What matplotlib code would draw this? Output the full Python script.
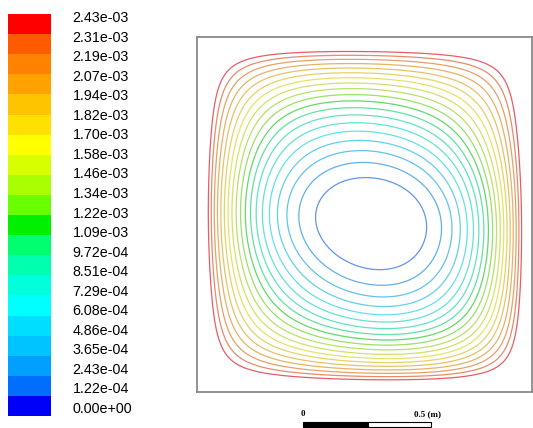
import numpy as np
import matplotlib
matplotlib.use("Agg")
import matplotlib.pyplot as plt
from matplotlib.patches import Rectangle
from matplotlib.colors import to_rgb

# ---------------- data ----------------
vmax = 2.43e-3
tick_values = [0.0, 1.215e-4, 2.43e-4, 3.645e-4, 4.86e-4, 6.075e-4, 7.29e-4,
               8.505e-4, 9.72e-4, 1.0935e-3, 1.215e-3, 1.3365e-3, 1.458e-3,
               1.5795e-3, 1.701e-3, 1.8225e-3, 1.944e-3, 2.0655e-3, 2.187e-3,
               2.3085e-3, 2.43e-3]
tick_labels = ["0.00e+00", "1.22e-04", "2.43e-04", "3.65e-04", "4.86e-04",
               "6.08e-04", "7.29e-04", "8.51e-04", "9.72e-04", "1.09e-03",
               "1.22e-03", "1.34e-03", "1.46e-03", "1.58e-03", "1.70e-03",
               "1.82e-03", "1.94e-03", "2.07e-03", "2.19e-03", "2.31e-03",
               "2.43e-03"]
# band colours, bottom (low) to top (high)
band_colors = ["#0000F8", "#006EFF", "#00A0FF", "#00C4FF", "#00DEFF",
               "#00FFFF", "#00FFDA", "#00FFAE", "#00FF70", "#00F000",
               "#6AFF00", "#A8FF00", "#D8FF00", "#FFFF00", "#FFE000",
               "#FFC400", "#FFA200", "#FF8200", "#FF5A00", "#FF0000"]
contour_levels = tick_values[1:20]
# field: Poisson-like stream function plus correction modes (m, n, amplitude)
correction_modes = [(1, 3, -0.0025), (2, 1, -0.0019), (1, 2, 0.0036), (2, 2, -0.0025)]
core_bump = (0.0043, 0.154)   # amplitude, vertical width of central flattening
field_scale = 2.825e-3
field_power = 1.36
scale_labels = ["0", "0.5 (m)"]

# ---------------- field ----------------
N = 301
x = np.linspace(0, 1, N)
y = np.linspace(0, 1, N)
X, Y = np.meshgrid(x, y)
psi = np.zeros_like(X)
odd = np.arange(1, 52, 2)
for m in odd:
    sx = np.sin(m * np.pi * x)
    for n in odd:
        sy = np.sin(n * np.pi * y)
        psi += 16.0 / (np.pi ** 4 * m * n * (m * m + n * n)) * np.outer(sy, sx)
for m, n, a in correction_modes:
    psi += a * np.outer(np.sin(n * np.pi * y), np.sin(m * np.pi * x))
psi += core_bump[0] * np.sin(np.pi * X) * np.exp(-((Y - 0.5) / core_bump[1]) ** 2)
u = 1.0 - psi / psi.max()
u = np.clip(u, 0, None)
F = field_scale * u ** field_power

# ---------------- figure ----------------
W, H = 533, 428
fig = plt.figure(figsize=(W / 100, H / 100), dpi=100)
fig.patch.set_facecolor("white")

def line_col(c):
    r, g, b = to_rgb(c)
    k = 0.52
    return (k * r + (1 - k) * 0.80, k * g + (1 - k) * 0.76, k * b + (1 - k) * 0.84)

line_colors = [line_col(band_colors[i]) for i in range(1, 20)]

ax = fig.add_axes([197 / W, 1 - 392 / H, 335 / W, 355 / H])
ax.contour(X, Y, F, levels=contour_levels, colors=line_colors, linewidths=0.9)
ax.set_xlim(0, 1)
ax.set_ylim(0, 1)
ax.set_xticks([])
ax.set_yticks([])
for s in ax.spines.values():
    s.set_color("#8a8a8a")
    s.set_linewidth(1.3)

# colour bar
cax = fig.add_axes([8 / W, 1 - 416 / H, 43 / W, 402 / H])
for i in range(20):
    cax.bar(0, tick_values[i + 1] - tick_values[i], bottom=tick_values[i],
            width=1, align="edge", color=band_colors[i], linewidth=0)
cax.set_xlim(0, 1)
cax.set_ylim(0, vmax)
cax.axis("off")
for v, lab in zip(tick_values, tick_labels):
    cax.text(1.5, (7 + 391 * v / vmax) / 402, lab, transform=cax.transAxes,
             ha="left", va="center", fontsize=10.3, family="Liberation Sans",
             color="black")

# scale bar
fig.patches.append(Rectangle((303 / W, 1 - 427 / H), 65 / W, 5 / H,
                             transform=fig.transFigure, facecolor="black",
                             edgecolor="black", linewidth=0.8))
fig.patches.append(Rectangle((368 / W, 1 - 427 / H), 63 / W, 5 / H,
                             transform=fig.transFigure, facecolor="white",
                             edgecolor="black", linewidth=0.8))
fig.text(303 / W, 1 - 414 / H, scale_labels[0], ha="center", va="center",
         fontsize=6.5, family="Liberation Serif", weight="bold")
fig.text(414 / W, 1 - 414 / H, scale_labels[1], ha="left", va="center",
         fontsize=6.5, family="Liberation Serif", weight="bold")

fig.savefig("out.png", dpi=100)
